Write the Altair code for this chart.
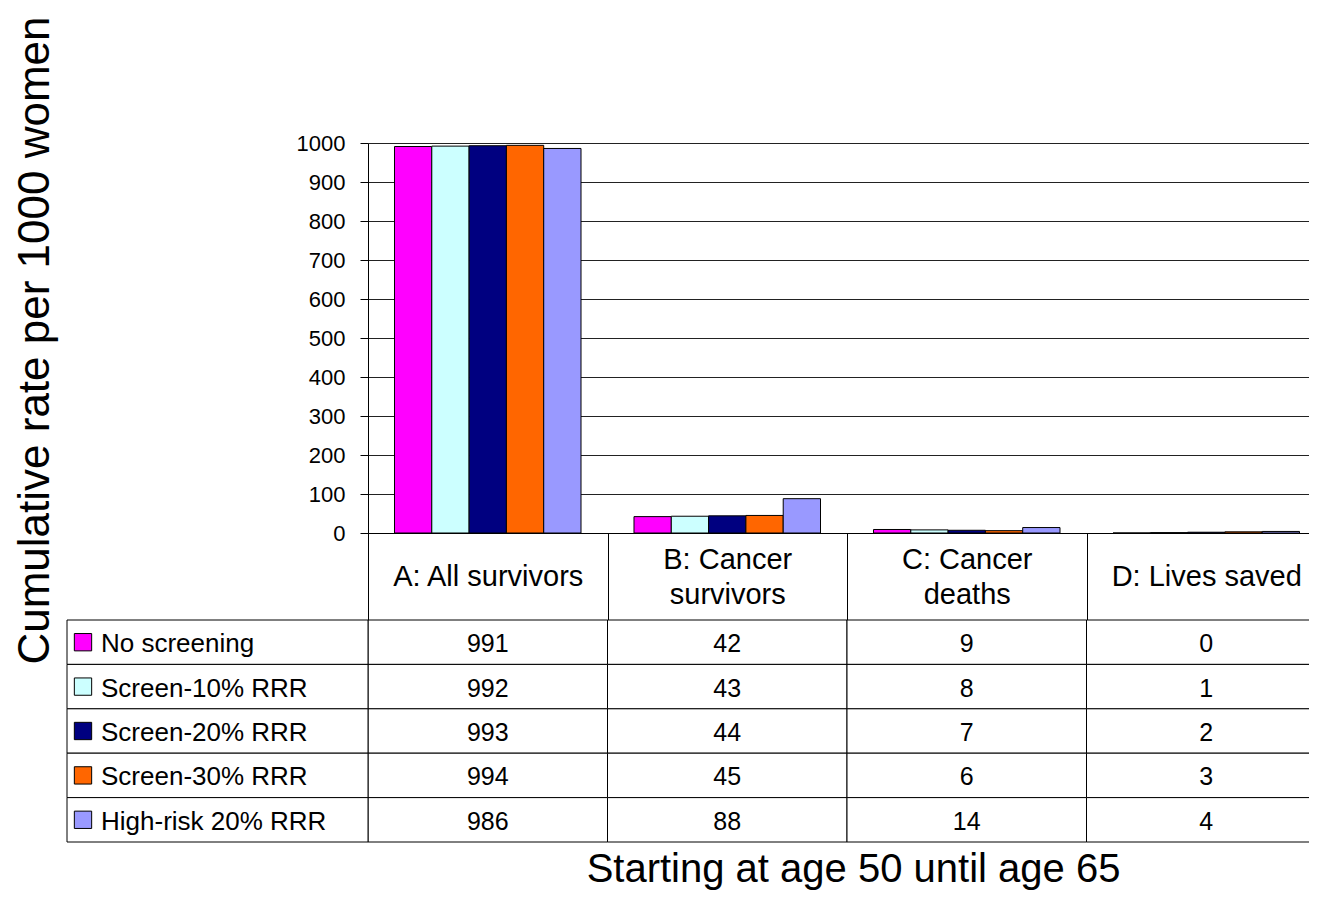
import altair as alt
import pandas as pd

# ---- data ----
categories = ["A: All survivors", "B: Cancer\nsurvivors", "C: Cancer\ndeaths", "D: Lives saved"]
series = ["No screening", "Screen-10% RRR", "Screen-20% RRR", "Screen-30% RRR", "High-risk 20% RRR"]
all_survivors = [991, 992, 993, 994, 986]
cancer_survivors = [42, 43, 44, 45, 88]
cancer_deaths = [9, 8, 7, 6, 14]
lives_saved = [0, 1, 2, 3, 4]
colors = ["#FF00FF", "#CCFFFF", "#000080", "#FF6600", "#9999FF"]
y_ticks = [0, 100, 200, 300, 400, 500, 600, 700, 800, 900, 1000]
y_title = "Cumulative rate per 1000 women"
x_title = "Starting at age 50 until age 65"

rows = []
for cat, vals in zip(categories, [all_survivors, cancer_survivors, cancer_deaths, lives_saved]):
    for s, v in zip(series, vals):
        rows.append({"category": cat, "series": s, "value": v})
df = pd.DataFrame(rows)
legend_df = pd.DataFrame({"col": ["Legend"] * len(series), "series": series})

FONT = "Liberation Sans"
X_RANGE = [0, 958]
TABLE_Y_RANGE = [477, 699]

color_scale = alt.Scale(domain=series, range=colors)


def x_scale():
    return alt.Scale(type="band", domain=categories, range=X_RANGE, padding=0)


def table_y():
    return alt.Y("series:N", scale=alt.Scale(type="band", domain=series, range=TABLE_Y_RANGE, padding=0), axis=None)


def leg_x(band_pos=None):
    kw = {}
    if band_pos is not None:
        kw["bandPosition"] = band_pos
    return alt.X("col:N", scale=alt.Scale(type="band", domain=["Legend"], range=[-301, 0], padding=0), axis=None, **kw)


two_line_test = "indexof(datum.label, '\\n') >= 0"

bars = alt.Chart(df).mark_bar(stroke="black", strokeWidth=1).encode(
    x=alt.X(
        "category:N",
        scale=x_scale(),
        title=x_title,
        axis=alt.Axis(
            labelExpr="split(datum.label, '\\n')",
            labelAngle=0,
            labelFontSize=29,
            labelLineHeight=35,
            labelBaseline="middle",
            labelPadding={"condition": {"test": two_line_test, "value": -61}, "value": -43.5},
            labelColor="black",
            labelOverlap=False,
            labelFlush=False,
            labelLimit=0,
            tickBand="extent",
            tickSize=87,
            tickColor="black",
            domainColor="black",
            grid=False,
            titleFontSize=40,
            titleFontWeight="normal",
            titleColor="black",
            titleX=485,
            titleY=348,
            titleBaseline="alphabetic",
        ),
    ),
    xOffset=alt.XOffset("series:N", sort=series, scale=alt.Scale(paddingInner=0, paddingOuter=0.71)),
    y=alt.Y(
        "value:Q",
        scale=alt.Scale(domain=[0, 1000], nice=False),
        title=y_title,
        axis=alt.Axis(
            values=y_ticks,
            format="d",
            labelFontSize=22,
            labelPadding=15,
            labelColor="black",
            tickSize=8,
            tickColor="black",
            domainColor="black",
            gridColor="#222222",
            titleFontSize=44,
            titleFontWeight="normal",
            titleColor="black",
            titleX=-311,
            titleY=197,
        ),
    ),
    color=alt.Color("series:N", scale=color_scale, legend=None),
)

cells = alt.Chart(df).mark_rect(fill="white", stroke="black", strokeWidth=1).encode(
    x=alt.X("category:N", scale=x_scale(), axis=None),
    y=table_y(),
)

cell_text = alt.Chart(df).mark_text(fontSize=25, color="black", baseline="middle", dy=2).encode(
    x=alt.X("category:N", scale=x_scale(), axis=None),
    y=table_y(),
    text="value:Q",
)

legend_cells = alt.Chart(legend_df).mark_rect(fill="white", stroke="black", strokeWidth=1).encode(
    x=leg_x(),
    y=table_y(),
)

swatches = alt.Chart(legend_df).mark_square(size=300, stroke="black", strokeWidth=1, opacity=1, xOffset=16).encode(
    x=leg_x(0),
    y=table_y(),
    color=alt.Color("series:N", scale=color_scale, legend=None),
)

legend_text = alt.Chart(legend_df).mark_text(align="left", dx=34, dy=2, fontSize=26, color="black", baseline="middle").encode(
    x=leg_x(0),
    y=table_y(),
    text="series:N",
)

chart = (
    alt.layer(bars, cells, cell_text, legend_cells, swatches, legend_text)
    .resolve_scale(x="independent", y="independent")
    .properties(
        width=941,
        height=390,
        autosize=alt.AutoSizeParams(type="none"),
        padding={"left": 360, "top": 135, "right": 0, "bottom": 358},
    )
    .configure(font=FONT)
    .configure_view(stroke=None)
)

chart.save("out.html", embed_options={"renderer": "svg", "actions": False})
